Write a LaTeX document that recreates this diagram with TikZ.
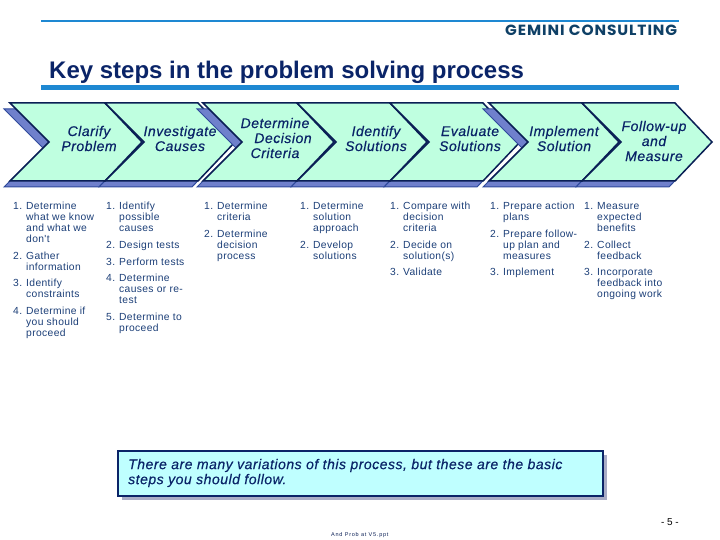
\documentclass[tikz,border=0pt]{standalone}
\usepackage{fontspec}
\usepackage{graphicx}
\setmainfont{Liberation Sans}
\newfontfamily\logofont[LetterSpace=6]{Poppins}
\newfontfamily\bodyfont[LetterSpace=3.5]{Liberation Sans}
\newfontfamily\tinyfont[LetterSpace=14]{Liberation Sans}
\newfontfamily\labelfont[LetterSpace=3.7,ItalicFeatures={FakeBold=0.35}]{Liberation Sans}
\definecolor{navy}{HTML}{0A2468}
\definecolor{edgenavy}{HTML}{0A1F55}
\definecolor{bodyblue}{HTML}{1C3F78}
\definecolor{barblue}{HTML}{1E88D2}
\definecolor{mint}{HTML}{BFFFE0}
\definecolor{shadowfill}{HTML}{6F80CC}
\definecolor{shadowedge}{HTML}{2F4A9C}
\definecolor{aqua}{HTML}{BFFFFF}
\definecolor{boxshade}{HTML}{A9ADC6}
\definecolor{logoblue}{HTML}{0F4066}
\tikzset{
  x=1pt,y=-1pt,
  chev/.style={draw=edgenavy,fill=mint,line width=1.5pt,line join=miter},
  chevshadow/.style={draw=shadowedge,fill=shadowfill,line width=1pt,line join=miter,shift={(-6,6)}},
  steplabel/.style={align=center,inner sep=0pt,text=navy,font=\fontsize{14}{15}\selectfont\labelfont\itshape},
  bodyitem/.style={anchor=north west,align=left,inner sep=0pt,text=bodyblue,font=\fontsize{10.3}{11}\selectfont\bodyfont},
  barrule/.style={fill=barblue,draw=none},
}
% first-line centre, number x, text indent
\newcommand{\itm}[6]{\node[bodyitem] (#1) at (#2,#3-4.5) {\rule{0pt}{8pt}\makebox[#4pt][l]{#5}#6};}
\newcommand{\ind}[1]{\\\hspace*{#1pt}}
\newcommand{\chevpath}[3]{(#1,#3-39) -- (#1+39,#3) -- (#1,#3+39) -- (#2,#3+39) -- (#2+37,#3) -- (#2,#3-39) -- cycle}
\begin{document}
\begin{tikzpicture}
\useasboundingbox (0,0) rectangle (720,540);
\fill[white] (0,0) rectangle (720,540);
% header
\path[barrule] (41,20) rectangle (679,22);
\path[barrule] (41,85) rectangle (679,90);
\node[anchor=west,inner sep=0pt,text=logoblue] (logo) at (505,30.5) {\resizebox{172pt}{10.5pt}{\logofont\bfseries GEMINI CONSULTING}};
\node[anchor=base west,inner sep=0pt,text=navy,font=\fontsize{24}{26}\selectfont\bfseries] (title) at (49,79) {Key steps in the problem solving process};
% chevrons: group 1
\draw[chevshadow] \chevpath{10}{105}{142};
\draw[chevshadow] \chevpath{105}{198}{142};
\draw[chev] \chevpath{10}{105}{142};
\draw[chev] \chevpath{105}{198}{142};
% group 2
\draw[chevshadow] \chevpath{203}{297}{142};
\draw[chevshadow] \chevpath{297}{390}{142};
\draw[chevshadow] \chevpath{390}{483}{142};
\draw[chev] \chevpath{203}{297}{142};
\draw[chev] \chevpath{297}{390}{142};
\draw[chev] \chevpath{390}{483}{142};
% group 3
\draw[chevshadow] \chevpath{489}{582}{142};
\draw[chevshadow] \chevpath{582}{675}{142};
\draw[chev] \chevpath{489}{582}{142};
\draw[chev] \chevpath{582}{675}{142};
% chevron labels
\node[steplabel] (s1) at (89,138.5) {Clarify\\Problem};
\node[steplabel] (s2) at (180,138.5) {Investigate\\Causes};
\node[steplabel] (s3) at (275,138) {Determine\\\hspace*{16pt}Decision\\Criteria};
\node[steplabel] (s4) at (376,138.5) {Identify\\Solutions};
\node[steplabel] (s5) at (470,138.5) {Evaluate\\Solutions};
\node[steplabel] (s6) at (564,138.5) {Implement\\Solution};
\node[steplabel] (s7) at (654,141) {Follow-up\\and\\Measure};
% column 1
\itm{a1}{13}{205.7}{13}{1.}{Determine\ind{13}what we know\ind{13}and what we\ind{13}don't}
\itm{a2}{13}{255.5}{13}{2.}{Gather\ind{13}information}
\itm{a3}{13}{283}{13}{3.}{Identify\ind{13}constraints}
\itm{a4}{13}{310.7}{13}{4.}{Determine if\ind{13}you should\ind{13}proceed}
% column 2
\itm{b1}{106}{205.7}{13}{1.}{Identify\ind{13}possible\ind{13}causes}
\itm{b2}{106}{244.7}{13}{2.}{Design tests}
\itm{b3}{106}{261.7}{13}{3.}{Perform tests}
\itm{b4}{106}{277.7}{13}{4.}{Determine\ind{13}causes or re-\ind{13}test}
\itm{b5}{106}{316.7}{13}{5.}{Determine to\ind{13}proceed}
% column 3
\itm{c1}{204}{205.7}{13}{1.}{Determine\ind{13}criteria}
\itm{c2}{204}{233.3}{13}{2.}{Determine\ind{13}decision\ind{13}process}
% column 4
\itm{d1}{300}{205.7}{13}{1.}{Determine\ind{13}solution\ind{13}approach}
\itm{d2}{300}{244.7}{13}{2.}{Develop\ind{13}solutions}
% column 5
\itm{e1}{390}{205.7}{13}{1.}{Compare with\ind{13}decision\ind{13}criteria}
\itm{e2}{390}{244.7}{13}{2.}{Decide on\ind{13}solution(s)}
\itm{e3}{390}{271.7}{13}{3.}{Validate}
% column 6
\itm{f1}{490}{205.7}{13}{1.}{Prepare action\ind{13}plans}
\itm{f2}{490}{233.3}{13}{2.}{Prepare follow-\ind{13}up plan and\ind{13}measures}
\itm{f3}{490}{271.7}{13}{3.}{Implement}
% column 7
\itm{g1}{584}{205.7}{13}{1.}{Measure\ind{13}expected\ind{13}benefits}
\itm{g2}{584}{244.7}{13}{2.}{Collect\ind{13}feedback}
\itm{g3}{584}{271.7}{13}{3.}{Incorporate\ind{13}feedback into\ind{13}ongoing work}
% callout
\fill[boxshade] (121.5,454.5) rectangle (606.5,499.5);
\node[draw=navy,fill=aqua,line width=2pt,minimum width=485pt,minimum height=45pt,anchor=north west,inner sep=0pt] (callout) at (117,450) {};
\node[anchor=west,align=left,inner sep=0pt,text=navy,font=\fontsize{14}{15}\selectfont\labelfont\itshape] (callouttext) at (128,473) {There are many variations of this process, but these are the basic\\steps you should follow.};
% footer
\node[anchor=east,inner sep=0pt,text=black,font=\fontsize{10}{11}\selectfont] (pageno) at (679,522) {- 5 -};
\node[anchor=west,inner sep=0pt,text=edgenavy,font=\fontsize{5.5}{6}\selectfont\tinyfont] (fname) at (331,535) {And Prob at V5.ppt};
\end{tikzpicture}
\end{document}
